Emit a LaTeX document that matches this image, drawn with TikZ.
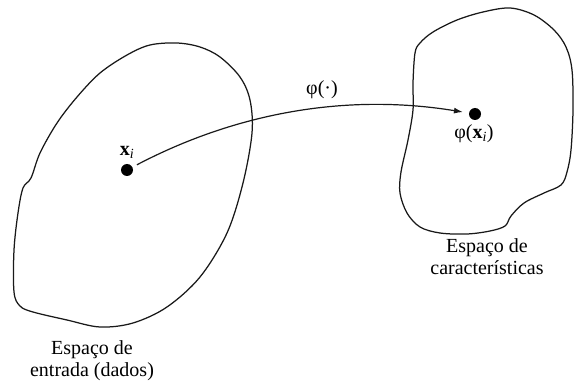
\documentclass[tikz,border=0pt]{standalone}
\usepackage{fontspec}
\setmainfont{Liberation Serif}
\usetikzlibrary{arrows.meta}
\tikzset{
  blob/.style={draw=black!90, line width=1.25pt, smooth cycle, tension=0.55},
  pt/.style={circle, fill=black, inner sep=0pt, minimum size=12pt},
  lbl/.style={font=\fontsize{20}{22}\selectfont, align=center, inner sep=0pt},
  maparrow/.style={line width=1.2pt, draw=black!90, -{Latex[length=9pt,width=6pt]}}
}
\begin{document}
\begin{tikzpicture}[x=1pt,y=-1pt]
\useasboundingbox (0,0) rectangle (574,385);
% input space
\draw[blob] plot coordinates {(177,43) (200,47) (220,57) (240,77) (250,100) (252,133) (243,183) (227,233) (200,277) (167,307) (133,323) (100,327) (67,320) (33,312) (20,306) (14,292) (14,250) (18,213) (23,188) (31,178) (40,153) (57,123) (77,97) (100,73) (127,55) (150,45)};
% feature space
\draw[blob] plot coordinates {(420,43) (433,32) (457,20) (483,12) (510,8) (534,15) (554,30) (566,47) (572,70) (573,110) (571,150) (567,172) (561,185) (544,193) (524,203) (511,216) (505,226) (490,231) (467,234) (440,233) (420,227) (407,213) (400,193) (401,172) (408,140) (413,110) (413,83) (415,53)};
\node[pt] (xi) at (127,170) {};
\node[pt] (phixi) at (475,114) {};
\node[lbl] (xilab) at (127,152) {\textbf{x}\textsubscript{\textit{i}}};
\node[lbl] (philab) at (474,134) {φ(\textbf{x}\textsubscript{\textit{i}})};
\node[lbl] (maplab) at (322,90) {φ(·)};
\node[lbl] (inlab) at (92,361) {Espaço de\\entrada (dados)};
\node[lbl] (featlab) at (487,257) {Espaço de\\características};
\draw[maparrow, shorten <=5pt, shorten >=6pt] (xi) .. controls (230,116) and (340,92) .. (phixi);
\end{tikzpicture}
\end{document}
